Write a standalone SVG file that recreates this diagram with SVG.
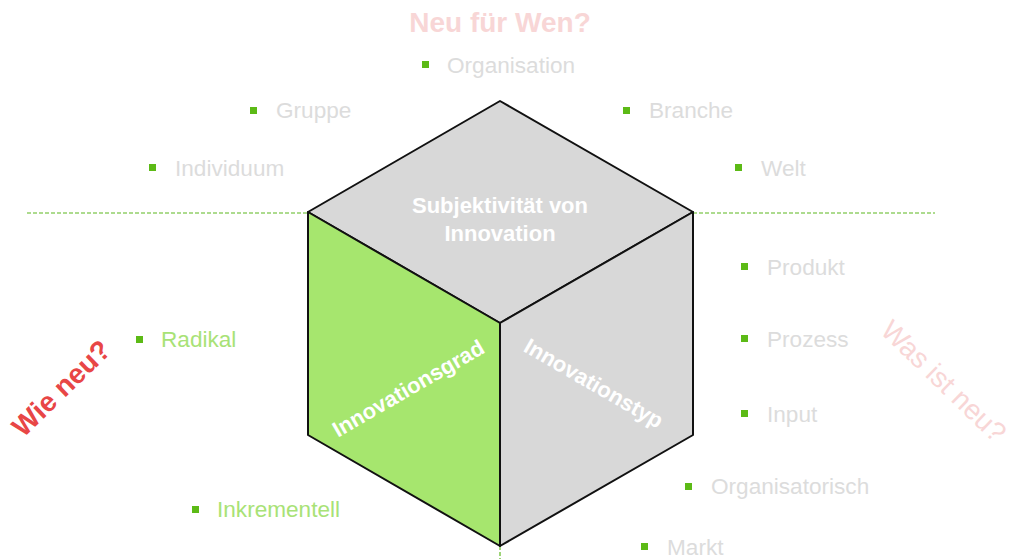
<svg xmlns="http://www.w3.org/2000/svg" width="1024" height="559" viewBox="0 0 1024 559">
<style>
text{font-family:"Liberation Sans",Arial,sans-serif}
.lbl{font-size:22.6px;fill:#dcdcdc}
.lg{font-size:22.6px;fill:#a8e276}
.b{fill:#5cba16}
.face{stroke:#111;stroke-width:2;stroke-linejoin:round}
.ct{font-size:22px;font-weight:bold;fill:#fff;text-anchor:middle}
.dash{stroke:#5db81e;stroke-width:1.2;stroke-dasharray:4,2;fill:none}
</style>
<rect width="1024" height="559" fill="#fff"/>
<g id="connectors">
<line class="dash" x1="27" y1="213" x2="308" y2="213"/>
<line class="dash" x1="693" y1="213" x2="935" y2="213"/>
<line class="dash" x1="500" y1="546" x2="500" y2="559"/>
</g>
<g id="cube">
<polygon id="top" class="face" fill="#d8d8d8" points="500,101 693,212 500,323 308,212"/>
<polygon id="left" class="face" fill="#a6e66e" points="308,212 500,323 500,546 308,435"/>
<polygon id="right" class="face" fill="#d8d8d8" points="693,212 693,435 500,546 500,323"/>
<text class="ct" x="500" y="213">Subjektivität von</text>
<text class="ct" x="500" y="241">Innovation</text>
<text class="ct" transform="translate(408,388) rotate(-30)" y="8">Innovationsgrad</text>
<text class="ct" transform="translate(594,383) rotate(30)" y="8">Innovationstyp</text>
</g>
<g id="titles">
<text x="500" y="32" text-anchor="middle" font-size="28" font-weight="bold" fill="#f8d6d6">Neu für Wen?</text>
<text transform="translate(68,395) rotate(-44)" text-anchor="middle" font-size="28" font-weight="bold" fill="#e84646">Wie neu?</text>
<text transform="translate(937,388) rotate(44)" text-anchor="middle" font-size="28" fill="#f8d6d6">Was ist neu?</text>
</g>
<g id="organisation"><rect class="b" x="422" y="61" width="7" height="7"/><text class="lbl" x="447" y="73">Organisation</text></g>
<g id="gruppe"><rect class="b" x="250" y="107" width="7" height="7"/><text class="lbl" x="276" y="118">Gruppe</text></g>
<g id="individuum"><rect class="b" x="149" y="164" width="7" height="7"/><text class="lbl" x="175" y="176">Individuum</text></g>
<g id="branche"><rect class="b" x="623" y="107" width="7" height="7"/><text class="lbl" x="649" y="118">Branche</text></g>
<g id="welt"><rect class="b" x="735" y="164" width="7" height="7"/><text class="lbl" x="761" y="176">Welt</text></g>
<g id="produkt"><rect class="b" x="741" y="263" width="7" height="7"/><text class="lbl" x="767" y="275">Produkt</text></g>
<g id="prozess"><rect class="b" x="741" y="335" width="7" height="7"/><text class="lbl" x="767" y="347">Prozess</text></g>
<g id="input"><rect class="b" x="741" y="410" width="7" height="7"/><text class="lbl" x="767" y="422">Input</text></g>
<g id="organisatorisch"><rect class="b" x="685" y="483" width="7" height="7"/><text class="lbl" x="711" y="494">Organisatorisch</text></g>
<g id="markt"><rect class="b" x="641" y="543" width="7" height="7"/><text class="lbl" x="667" y="555">Markt</text></g>
<g id="radikal"><rect class="b" x="136" y="336" width="7" height="7"/><text class="lg" x="161" y="347">Radikal</text></g>
<g id="inkrementell"><rect class="b" x="192" y="506" width="7" height="7"/><text class="lg" x="217" y="517">Inkrementell</text></g>
</svg>
